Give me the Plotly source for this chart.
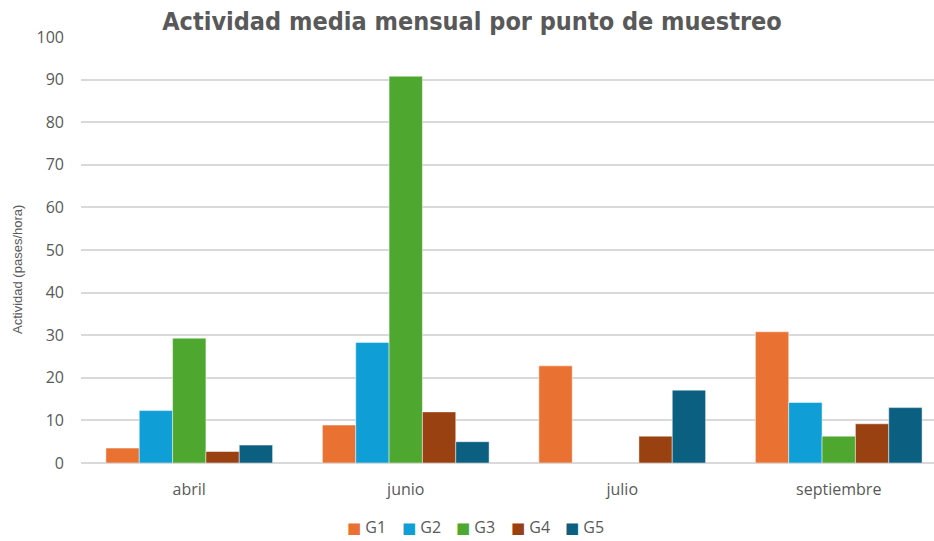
import plotly.graph_objects as go

categories = ["abril", "junio", "julio", "septiembre"]
series_names = ["G1", "G2", "G3", "G4", "G5"]
g1 = [3.5, 8.9, 22.8, 30.8]
g2 = [12.3, 28.3, None, 14.2]
g3 = [29.3, 90.8, None, 6.3]
g4 = [2.7, 12.0, 6.3, 9.2]
g5 = [4.2, 5.0, 17.1, 13.0]
colors = ["#E97132", "#0F9ED5", "#4EA72E", "#9A4111", "#0B5F80"]
y_ticks = list(range(0, 101, 10))
y_title = "Actividad (pases/hora)"

gray = "#595959"
tick_font = "Open Sans, Liberation Sans, Arial, sans-serif"
L, R, T, B, W, H = 81, 0, 37, 78, 934, 541
pw, ph = W - L - R, H - T - B

fig = go.Figure()
for name, vals, col in zip(series_names, [g1, g2, g3, g4, g5], colors):
    fig.add_trace(go.Bar(
        x=categories, y=vals, name=name, showlegend=False,
        marker=dict(color=col, line=dict(color="rgba(255,255,255,0.6)", width=0.8)),
    ))

# legend built as annotations (compact, Excel-like)
for i, (name, col) in enumerate(zip(series_names, colors)):
    px = 345 + i * 54.5
    fig.add_annotation(
        xref="paper", yref="paper",
        x=(px - L) / pw, y=(H - B - 527) / ph,
        xanchor="left", yanchor="middle", showarrow=False,
        text=f"<span style='color:{col};font-family:DejaVu Sans;font-size:15px'>■</span> {name}",
        font=dict(size=16, color=gray, family=tick_font),
    )

# y-axis title (placed like the original, slightly below the plot centre)
fig.add_annotation(
    xref="paper", yref="paper",
    x=(17 - L) / pw, y=(H - B - 270) / ph,
    xanchor="center", yanchor="middle", showarrow=False, textangle=-90,
    text=y_title,
    font=dict(size=13, color=gray, family="Liberation Sans, Arial, sans-serif"),
)

fig.update_layout(
    width=W, height=H,
    margin=dict(l=L, r=R, t=T, b=B),
    paper_bgcolor="white", plot_bgcolor="white",
    barmode="group", bargap=0.23, bargroupgap=0,
    showlegend=False,
    font=dict(family=tick_font, color=gray),
    title=dict(
        text="<b>Actividad media mensual por punto de muestreo</b>",
        font=dict(family="Liberation Sans Narrow, DejaVu Sans Condensed, Arial Narrow, sans-serif",
                  size=25, color=gray),
        x=472 / 934, xref="container", xanchor="center",
        y=1 - 21 / 541, yref="container", yanchor="middle",
    ),
    xaxis=dict(
        range=[-0.5, 3.44], showgrid=False, showline=False, ticks="",
        tickfont=dict(size=16, color=gray, family=tick_font), ticklabelstandoff=15,
    ),
    yaxis=dict(
        range=[0, 100], tickvals=y_ticks, showgrid=True, gridcolor="#D9D9D9", gridwidth=1.5,
        zeroline=True, zerolinecolor="#D9D9D9", zerolinewidth=1.5,
        tickfont=dict(size=16, color=gray, family=tick_font), ticklabelstandoff=16,
    ),
)

fig.write_html("out.html", config={"displayModeBar": False},
               post_script="document.body.style.margin='0';document.body.style.overflow='hidden';")
